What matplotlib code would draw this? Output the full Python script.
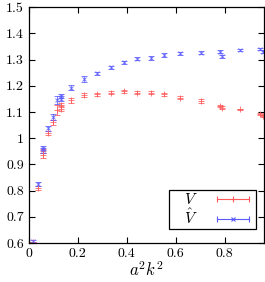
import matplotlib
matplotlib.use("Agg")
import matplotlib.pyplot as plt
from matplotlib.lines import Line2D
from matplotlib.legend_handler import HandlerLine2D, HandlerTuple
from matplotlib.ticker import FuncFormatter, MultipleLocator

plt.rcParams['font.family'] = 'cmr10'
plt.rcParams['mathtext.fontset'] = 'cm'
plt.rcParams['axes.formatter.use_mathtext'] = True

x = [0.018, 0.038, 0.056, 0.056, 0.079, 0.097, 0.116, 0.133, 0.133, 0.170, 0.227,
     0.279, 0.335, 0.389, 0.442, 0.497, 0.551, 0.619, 0.701, 0.780, 0.790,
     0.864, 0.943, 0.956]
V = [0.603, 0.810, 0.935, 0.950, 1.020, 1.060, 1.107, 1.113, 1.127, 1.145, 1.164,
     1.167, 1.174, 1.178, 1.174, 1.173, 1.167, 1.155, 1.142, 1.122, 1.116,
     1.110, 1.092, 1.085]
V_err = [0.003, 0.008, 0.010, 0.008, 0.008, 0.008, 0.020, 0.008, 0.008, 0.010, 0.008,
         0.006, 0.005, 0.005, 0.005, 0.006, 0.006, 0.006, 0.006, 0.005, 0.005,
         0.003, 0.003, 0.003]
Vhat = [0.607, 0.824, 0.954, 0.962, 1.037, 1.081, 1.145, 1.151, 1.160, 1.193, 1.226,
        1.247, 1.271, 1.289, 1.303, 1.306, 1.317, 1.324, 1.326, 1.330, 1.313,
        1.336, 1.340, 1.330]
Vhat_err = [0.003, 0.008, 0.010, 0.008, 0.010, 0.010, 0.015, 0.010, 0.008, 0.010, 0.010,
            0.006, 0.006, 0.006, 0.006, 0.006, 0.006, 0.006, 0.006, 0.005, 0.006,
            0.004, 0.005, 0.005]
labels = ['$V$', r'$\hat{V}$']

red = '#ff5a5a'
blue = '#5a5aff'

fig = plt.figure(figsize=(2.65, 2.82), dpi=100)
ax = fig.add_axes([0.109, 0.138, 0.887, 0.837])

ax.errorbar(x, V, yerr=V_err, fmt='+', color=red, ms=4, mew=0.7, elinewidth=0.7,
            capsize=2, capthick=0.7, alpha=0.8)
ax.errorbar(x, Vhat, yerr=Vhat_err, fmt='x', color=blue, ms=3.5, mew=0.7, elinewidth=0.7,
            capsize=2, capthick=0.7, alpha=0.8)

ax.set_xlim(0, 0.96)
ax.set_ylim(0.6, 1.5)
ax.xaxis.set_major_locator(MultipleLocator(0.2))
ax.yaxis.set_major_locator(MultipleLocator(0.1))
fmt = FuncFormatter(lambda v, p: '%g' % round(v, 3))
ax.xaxis.set_major_formatter(fmt)
ax.yaxis.set_major_formatter(fmt)
ax.tick_params(direction='in', top=True, right=True, length=4, width=0.8, labelsize=10)
for s in ax.spines.values():
    s.set_linewidth(0.9)

ax.set_xlabel('$a^2k^2$', fontsize=12, labelpad=0)

# legend handles: horizontal errorbar with caps and marker
capR = Line2D([], [], color=red, marker='|', ms=5, mew=0.8, lw=0.8)
mkR = Line2D([], [], color=red, marker='+', ms=4, mew=0.8, ls='none')
capB = Line2D([], [], color=blue, marker='|', ms=5, mew=0.8, lw=0.8)
mkB = Line2D([], [], color=blue, marker='x', ms=3.5, mew=0.8, ls='none')
leg = ax.legend([(capR, mkR), (capB, mkB)], [r'$\quad$' + l for l in labels],
                handler_map={capR: HandlerLine2D(numpoints=2), capB: HandlerLine2D(numpoints=2),
                             mkR: HandlerLine2D(numpoints=1), mkB: HandlerLine2D(numpoints=1),
                             tuple: HandlerTuple(ndivide=1)},
                loc='lower right', bbox_to_anchor=(0.98, 0.045), markerfirst=False,
                fancybox=False, framealpha=1, edgecolor='black', fontsize=11,
                handlelength=2.7, borderpad=0.15, labelspacing=0.05, handletextpad=0.95,
                borderaxespad=0.2)
leg.get_frame().set_linewidth(0.9)

fig.savefig('out.png', dpi=100)
